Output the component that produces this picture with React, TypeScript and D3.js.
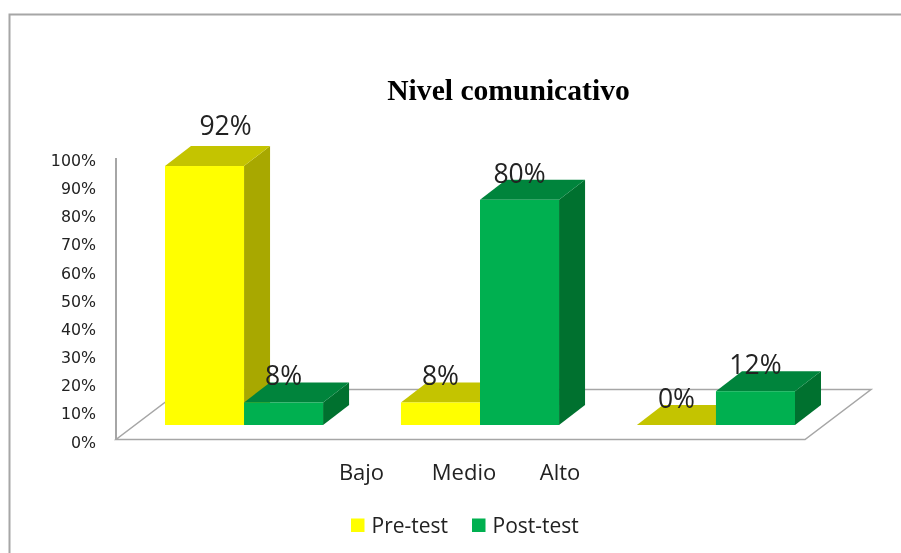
import * as d3 from "d3";

const categories = ["Bajo", "Medio", "Alto"];
const seriesNames = ["Pre-test", "Post-test"];
const preTest = [92, 8, 0];
const postTest = [8, 80, 12];
const yTicks = [0, 10, 20, 30, 40, 50, 60, 70, 80, 90, 100];

const frontColors = ["#ffff00", "#00b050"];
const topColors = ["#c4c400", "#00843c"];
const sideColors = ["#a8a800", "#00712f"];

const font = "'Open Sans', sans-serif";
const depthX = 26;
const depthY = -20;
const floorX = 66;
const floorY = -50;
const barLift = -14.5;

export default function App() {
  const y = d3.scaleLinear().domain([0, 100]).range([439.5, 158]);
  const group = d3.scaleBand().domain(categories).range([165, 795]).paddingInner(0.33);
  const sub = d3.scaleBand().domain(seriesNames).range([0, group.bandwidth()]);
  const series = [preTest, postTest];
  const base = y(0) + barLift;
  const x0 = 116;
  const x1 = 805;
  const floor = d3.line()([
    [x0, y(0)],
    [x1, y(0)],
    [x1 + floorX, y(0) + floorY],
    [x0 + floorX, y(0) + floorY],
  ]) + "Z";

  const bars = categories.flatMap((c, i) =>
    seriesNames.map((s, j) => ({ c, s, j, v: series[j][i] }))
  );

  return (
    <svg
      width={901}
      height={553}
      style={{ position: "absolute", left: 0, top: 0, display: "block", filter: "blur(0.35px)" }}
    >
      <rect width={901} height={553} fill="#fff" />
      <path d="M9.5,553V14.5H901" fill="none" stroke="#a6a6a6" strokeWidth={2} />
      <text
        x={508.5}
        y={100}
        textAnchor="middle"
        fontFamily="'Liberation Serif', serif"
        fontWeight="bold"
        fontSize={29.6}
        fill="#000"
      >
        Nivel comunicativo
      </text>

      <path d={floor} fill="#fff" stroke="#a6a6a6" strokeWidth={1.5} />
      <line x1={x0} x2={x0} y1={y(100)} y2={y(0)} stroke="#a6a6a6" strokeWidth={2} />
      {yTicks.map((t) => (
        <text
          key={t}
          x={96}
          y={y(t) + 8}
          textAnchor="end"
          fontFamily="'DejaVu Sans', sans-serif"
          fontSize={15.8}
          fill="#222"
        >
          {t}%
        </text>
      ))}

      {bars.map((b) => {
        const x = group(b.c)! + sub(b.s)!;
        const w = sub.bandwidth();
        const top = base - (y(0) - y(b.v));
        return (
          <g key={b.c + b.s}>
            <path
              d={`M${x + w},${top}l${depthX},${depthY}V${base + depthY}l${-depthX},${-depthY}Z`}
              fill={sideColors[b.j]}
            />
            <path
              d={`M${x},${top}l${depthX},${depthY}h${w}l${-depthX},${-depthY}Z`}
              fill={topColors[b.j]}
            />
            <rect x={x} y={top} width={w} height={base - top} fill={frontColors[b.j]} />
          </g>
        );
      })}

      {bars.map((b) => {
        const x = group(b.c)! + sub(b.s)!;
        const top = base - (y(0) - y(b.v));
        // the tallest bar's label sits clear of its top face, the others overlap it
        const tall = b.v > 90;
        return (
          <text
            key={b.c + b.s}
            x={x + sub.bandwidth() / 2 + (tall ? 21 : 0)}
            y={top - (tall ? 31 : 17)}
            textAnchor="middle"
            fontFamily={font}
            fontSize={26.5}
            fill="#222"
          >
            {b.v}%
          </text>
        );
      })}

      {categories.map((c, i) => (
        <text
          key={c}
          x={[361.5, 464, 560][i]}
          y={480}
          textAnchor="middle"
          fontFamily={font}
          fontSize={22}
          fill="#222"
        >
          {c}
        </text>
      ))}

      {seriesNames.map((s, i) => (
        <g key={s} transform={`translate(${[351, 472][i]},518.5)`}>
          <rect width={13.5} height={13.5} fill={frontColors[i]} />
          <text x={20.5} y={14} fontFamily={font} fontSize={21} fill="#222">
            {s}
          </text>
        </g>
      ))}
    </svg>
  );
}
